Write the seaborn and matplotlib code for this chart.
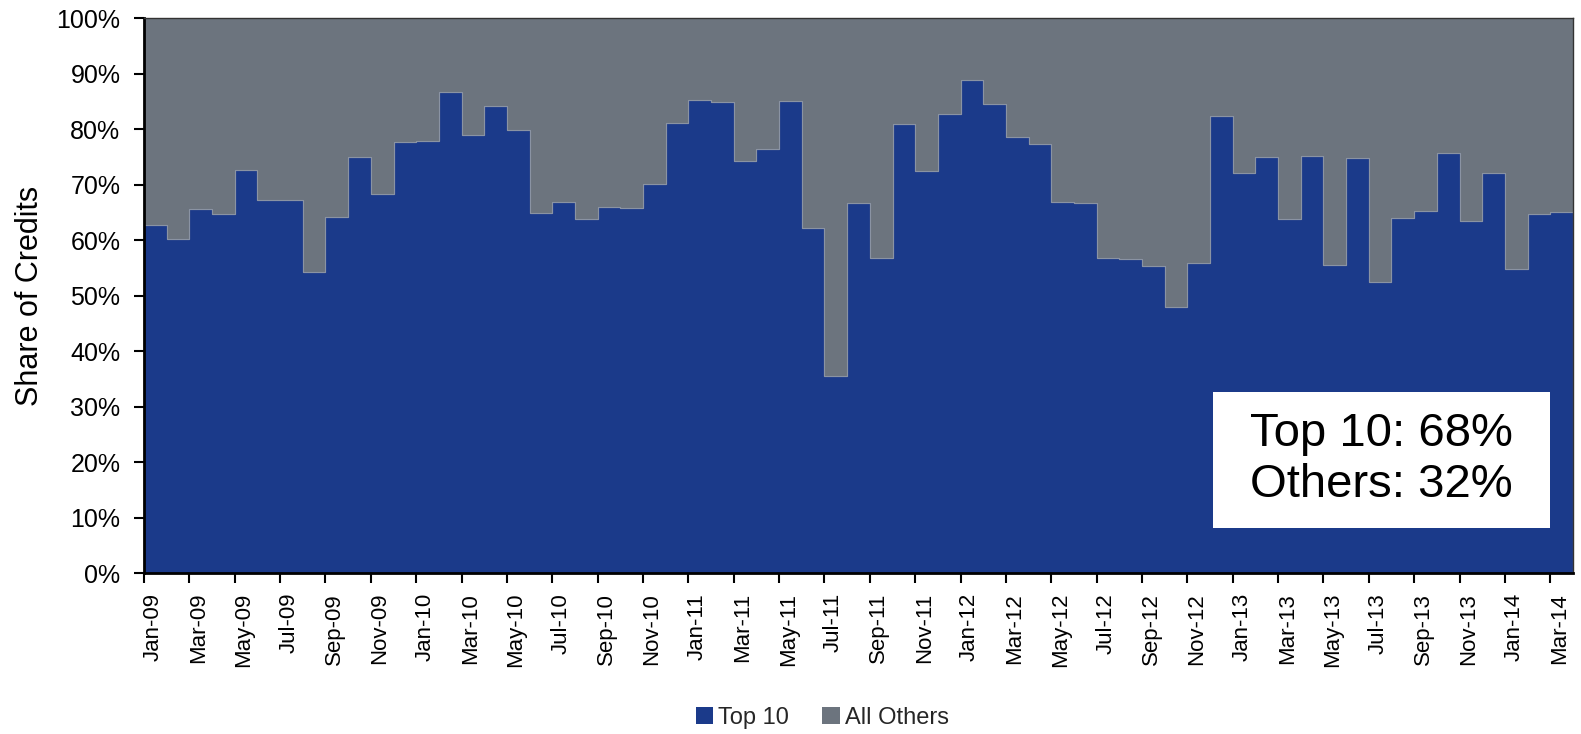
import matplotlib
matplotlib.use("Agg")
import matplotlib.pyplot as plt
from matplotlib.patches import Patch, Rectangle
import pandas as pd
import seaborn as sns

months = [
    "Jan-09", "Feb-09", "Mar-09", "Apr-09", "May-09", "Jun-09", "Jul-09", "Aug-09", "Sep-09", "Oct-09", "Nov-09", "Dec-09",
    "Jan-10", "Feb-10", "Mar-10", "Apr-10", "May-10", "Jun-10", "Jul-10", "Aug-10", "Sep-10", "Oct-10", "Nov-10", "Dec-10",
    "Jan-11", "Feb-11", "Mar-11", "Apr-11", "May-11", "Jun-11", "Jul-11", "Aug-11", "Sep-11", "Oct-11", "Nov-11", "Dec-11",
    "Jan-12", "Feb-12", "Mar-12", "Apr-12", "May-12", "Jun-12", "Jul-12", "Aug-12", "Sep-12", "Oct-12", "Nov-12", "Dec-12",
    "Jan-13", "Feb-13", "Mar-13", "Apr-13", "May-13", "Jun-13", "Jul-13", "Aug-13", "Sep-13", "Oct-13", "Nov-13", "Dec-13",
    "Jan-14", "Feb-14", "Mar-14",
]

# share of credits held by the top 10 (percent)
top10_share = [
    62.8, 60.3, 65.6, 64.7, 72.7, 67.3, 67.3, 54.4, 64.3, 75.1, 68.4, 77.7,
    78.0, 86.8, 79.0, 84.2, 79.9, 65.0, 67.0, 63.9, 66.1, 65.9, 70.2, 81.1,
    85.3, 85.0, 74.4, 76.4, 85.2, 62.3, 35.5, 66.8, 56.8, 81.0, 72.6, 82.8,
    88.9, 84.6, 78.6, 77.4, 67.0, 66.8, 56.8, 56.7, 55.4, 48.1, 56.0, 82.4,
    72.1, 75.0, 63.8, 75.3, 55.5, 74.9, 52.6, 64.0, 65.4, 75.8, 63.5, 72.1,
    54.8, 64.8, 65.2,
]
others_share = [100 - v for v in top10_share]

series_names = ["Top 10", "All Others"]
colors = {"Top 10": "#1b3a8a", "All Others": "#6c747e"}
summary_text = "Top 10: 68%\nOthers: 32%"

n = len(months)
df = pd.DataFrame({
    "idx": list(range(n)) * 2,
    "share": top10_share + others_share,
    "series": ["Top 10"] * n + ["All Others"] * n,
})

sns.set_theme(style="ticks")
plt.rcParams["font.family"] = ["Liberation Sans", "DejaVu Sans"]
narrow = ["Liberation Sans Narrow", "Liberation Sans", "DejaVu Sans"]

fig = plt.figure(figsize=(15.81, 7.34), dpi=100)
ax = fig.add_axes([0.0911, 0.2187, 0.9038, 0.7561])

sns.histplot(
    data=df,
    x="idx",
    weights="share",
    hue="series",
    hue_order=["All Others", "Top 10"],
    palette=colors,
    bins=n,
    binrange=(0, n),
    multiple="fill",
    element="step",
    alpha=1,
    edgecolor="#8a93a3",
    linewidth=0.8,
    legend=False,
    ax=ax,
)

ax.set_xlim(0, n)
ax.set_ylim(0, 1)
ax.set_xlabel("")

# tick marks on month boundaries, labels sit a little inside the month
ax.set_xticks(range(0, n, 2))
ax.set_xticklabels([])
ax.set_xticks([i + 0.4 for i in range(0, n, 2)], minor=True)
ax.set_xticklabels(months[::2], minor=True)
yt = [i / 10 for i in range(11)]
ax.set_yticks(yt)
ax.set_yticklabels([f"{int(round(v * 100))}%" for v in yt])

ax.tick_params(axis="both", which="major", direction="out", length=7, width=1.5,
               color="black", labelcolor="black")
ax.tick_params(axis="x", which="minor", length=0, pad=14, labelsize=16,
               labelrotation=90, labelcolor="black")
ax.tick_params(axis="y", which="minor", left=False)
ax.tick_params(axis="y", pad=10, labelsize=18)
for lab in ax.get_yticklabels():
    lab.set_family(narrow)
ax.set_ylabel("Share of Credits", fontsize=22, labelpad=8, color="black")

for side in ["left", "bottom"]:
    ax.spines[side].set_linewidth(2)
    ax.spines[side].set_color("black")
for side in ["top", "right"]:
    ax.spines[side].set_linewidth(1)
    ax.spines[side].set_color("#333333")

ax.add_patch(Rectangle((0.748, 0.082), 0.236, 0.245, transform=ax.transAxes,
                       facecolor="white", edgecolor="none", zorder=5))
ax.text(0.866, 0.205, summary_text, transform=ax.transAxes, ha="center", va="center",
        multialignment="center", fontsize=34, linespacing=1.2, color="black", zorder=6)

handles = [Patch(facecolor=colors[s], edgecolor="none", label=s) for s in series_names]
fig.legend(handles=handles, loc="center", bbox_to_anchor=(0.52, 0.022), ncol=2,
           frameon=False, handlelength=0.75, handleheight=0.75, handletextpad=0.2,
           columnspacing=1.4, prop={"family": narrow, "size": 17})

fig.savefig("out.png", dpi=100)
